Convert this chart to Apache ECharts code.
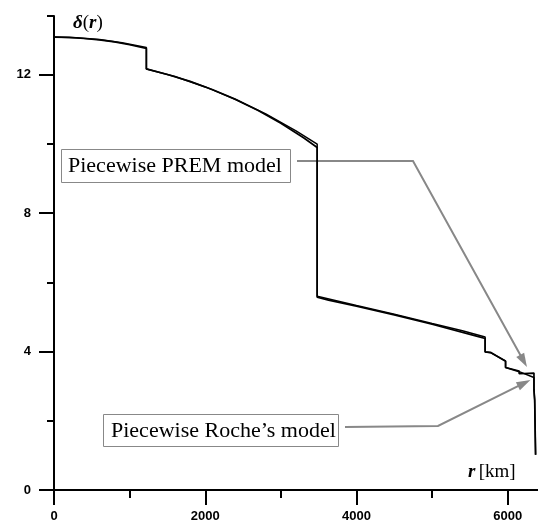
<!DOCTYPE html>
<html>
<head>
<meta charset="utf-8">
<script src="https://cdn.jsdelivr.net/npm/echarts@6/dist/echarts.min.js"></script>
<style>html,body{margin:0;padding:0;background:#fff;}#c{width:538px;height:531px;}</style>
</head>
<body>
<div id="c"></div>
<script>
// Radius (km) and density δ(r) (g/cm³)
const premR   = [0,200,400,600,800,1000,1221.5, 1221.5,1500,1800,2100,2400,2700,3000,3300,3480, 3480,3630,4000,4500,5000,5600,5701, 5701,5771,5971, 5971,6151, 6151,6346.6, 6346.6,6356, 6356,6368, 6368,6371];
const premRho = [13.09,13.08,13.05,13.01,12.95,12.87,12.76, 12.17,12.01,11.81,11.57,11.29,10.97,10.60,10.18,9.90, 5.57,5.49,5.31,5.06,4.79,4.44,4.38, 3.99,3.98,3.72, 3.54,3.44, 3.36,3.38, 2.90,2.90, 2.60,2.60, 1.02,1.02];
const rocheR   = [0,300,600,900,1221.5, 1221.5,1600,2000,2400,2800,3200,3480, 3480,4000,4500,5000,5400,5701, 5701,5771,5971, 5971,6151,6346.6, 6346.6,6356, 6356,6368, 6368,6371];
const rocheRho = [13.09,13.07,13.02,12.93,12.79, 12.17,11.95,11.65,11.29,10.87,10.38,10.00, 5.60,5.33,5.08,4.81,4.60,4.42, 3.99,3.97,3.73, 3.54,3.42,3.25, 2.90,2.90, 2.60,2.60, 1.02,1.02];
const xMajor = [0,2000,4000,6000];
const xMinor = [1000,3000,5000];
const yMajor = [0,4,8,12];
const yMinor = [2,6,10,13.7];
const labelPrem = 'Piecewise PREM model';
const labelRoche = 'Piecewise Roche\u2019s model';

const zip = (a,b) => a.map((v,i)=>[v,b[i]]);
const chart = echarts.init(document.getElementById('c'), null, {renderer:'canvas'});
const tickFont = {fontFamily:'Liberation Sans, Arial', fontWeight:'bold', fontSize:13, color:'#000'};
const axLine = {show:true, onZero:false, lineStyle:{color:'#000', width:2}};
const option = {
  animation:false,
  grid:{left:54, top:16, width:484, height:474, containLabel:false},
  xAxis:[
    {type:'value', min:0, max:6400, position:'bottom', axisLine:axLine, splitLine:{show:false},
     axisTick:{show:true, length:15, customValues:xMajor, lineStyle:{color:'#000', width:2}},
     axisLabel:Object.assign({margin:20, customValues:xMajor, formatter:v=>String(v)}, tickFont)},
    {type:'value', min:0, max:6400, position:'bottom', gridIndex:0, axisLine:{show:false}, splitLine:{show:false},
     axisTick:{show:true, length:8, customValues:xMinor, lineStyle:{color:'#000', width:2}},
     axisLabel:{show:false}}
  ],
  yAxis:[
    {type:'value', min:0, max:13.7, position:'left', axisLine:axLine, splitLine:{show:false},
     axisTick:{show:true, length:15, customValues:yMajor, lineStyle:{color:'#000', width:2}},
     axisLabel:Object.assign({margin:23, customValues:yMajor, formatter:v=>String(v)}, tickFont)},
    {type:'value', min:0, max:13.7, position:'left', gridIndex:0, axisLine:{show:false}, splitLine:{show:false},
     axisTick:{show:true, length:7, customValues:yMinor, lineStyle:{color:'#000', width:2}},
     axisLabel:{show:false}}
  ],
  series:[
    {type:'line', name:'PREM', data:zip(premR,premRho), showSymbol:false, symbol:'none', z:5,
     lineStyle:{color:'#000', width:1.7}},
    {type:'line', name:'Roche', data:zip(rocheR,rocheRho), showSymbol:false, symbol:'none', z:5,
     lineStyle:{color:'#000', width:1.5}}
  ]
};
chart.setOption(option);

function arrowHead(from, tip, len, half){
  const dx = tip[0]-from[0], dy = tip[1]-from[1];
  const L = Math.hypot(dx,dy), ux = dx/L, uy = dy/L;
  const bx = tip[0]-ux*len, by = tip[1]-uy*len;
  return [[tip[0],tip[1]],[bx-uy*half, by+ux*half],[bx+uy*half, by-ux*half]];
}
const tipPrem = chart.convertToPixel({gridIndex:0}, [6346.6, 3.38]);
const tipRoche = chart.convertToPixel({gridIndex:0}, [6300, 3.18]);
tipPrem[0] -= 7; tipPrem[1] -= 6;
const gray = '#888';
const premPath = [[297,161],[413,161],[tipPrem[0],tipPrem[1]]];
const rochePath = [[345,427],[438,426],[tipRoche[0],tipRoche[1]]];
const endBack = (p, tip, len) => { const dx=tip[0]-p[0], dy=tip[1]-p[1], L=Math.hypot(dx,dy); return [tip[0]-dx/L*len, tip[1]-dy/L*len]; };
const serif = 'Liberation Serif, Times New Roman, serif';
chart.setOption({graphic:[
  {type:'rect', z:1, shape:{x:61.5, y:149.5, width:229, height:33}, style:{fill:'#fff', stroke:gray, lineWidth:1}},
  {type:'text', z:2, style:{text:labelPrem, x:68, y:166, font:'22px '+serif, fill:'#000', textVerticalAlign:'middle'}},
  {type:'rect', z:1, shape:{x:103.5, y:414.5, width:235, height:32}, style:{fill:'#fff', stroke:gray, lineWidth:1}},
  {type:'text', z:2, style:{text:labelRoche, x:111, y:431, font:'22px '+serif, fill:'#000', textVerticalAlign:'middle'}},
  {type:'polyline', z:1, shape:{points:[premPath[0],premPath[1],endBack(premPath[1],premPath[2],10)]}, style:{stroke:gray, lineWidth:2, fill:null}},
  {type:'polygon', z:1, shape:{points:arrowHead(premPath[1],premPath[2],14,4.5)}, style:{fill:gray}},
  {type:'polyline', z:1, shape:{points:[rochePath[0],rochePath[1],endBack(rochePath[1],rochePath[2],10)]}, style:{stroke:gray, lineWidth:2, fill:null}},
  {type:'polygon', z:1, shape:{points:arrowHead(rochePath[1],rochePath[2],14,4.5)}, style:{fill:gray}},
  {type:'text', z:3, style:{text:'{a|\u03b4}{b|(}{c|r}{b|)}', x:73, y:23, textVerticalAlign:'middle',
    rich:{a:{font:'italic bold 19px '+serif, fill:'#000'}, b:{font:'19px '+serif, fill:'#000'}, c:{font:'italic bold 19px '+serif, fill:'#000'}}}},
  {type:'text', z:3, style:{text:'{c|r} {b|[km]}', x:468, y:472, textVerticalAlign:'middle',
    rich:{b:{font:'19px '+serif, fill:'#000'}, c:{font:'italic bold 19px '+serif, fill:'#000'}}}}
]});
</script>
</body>
</html>
